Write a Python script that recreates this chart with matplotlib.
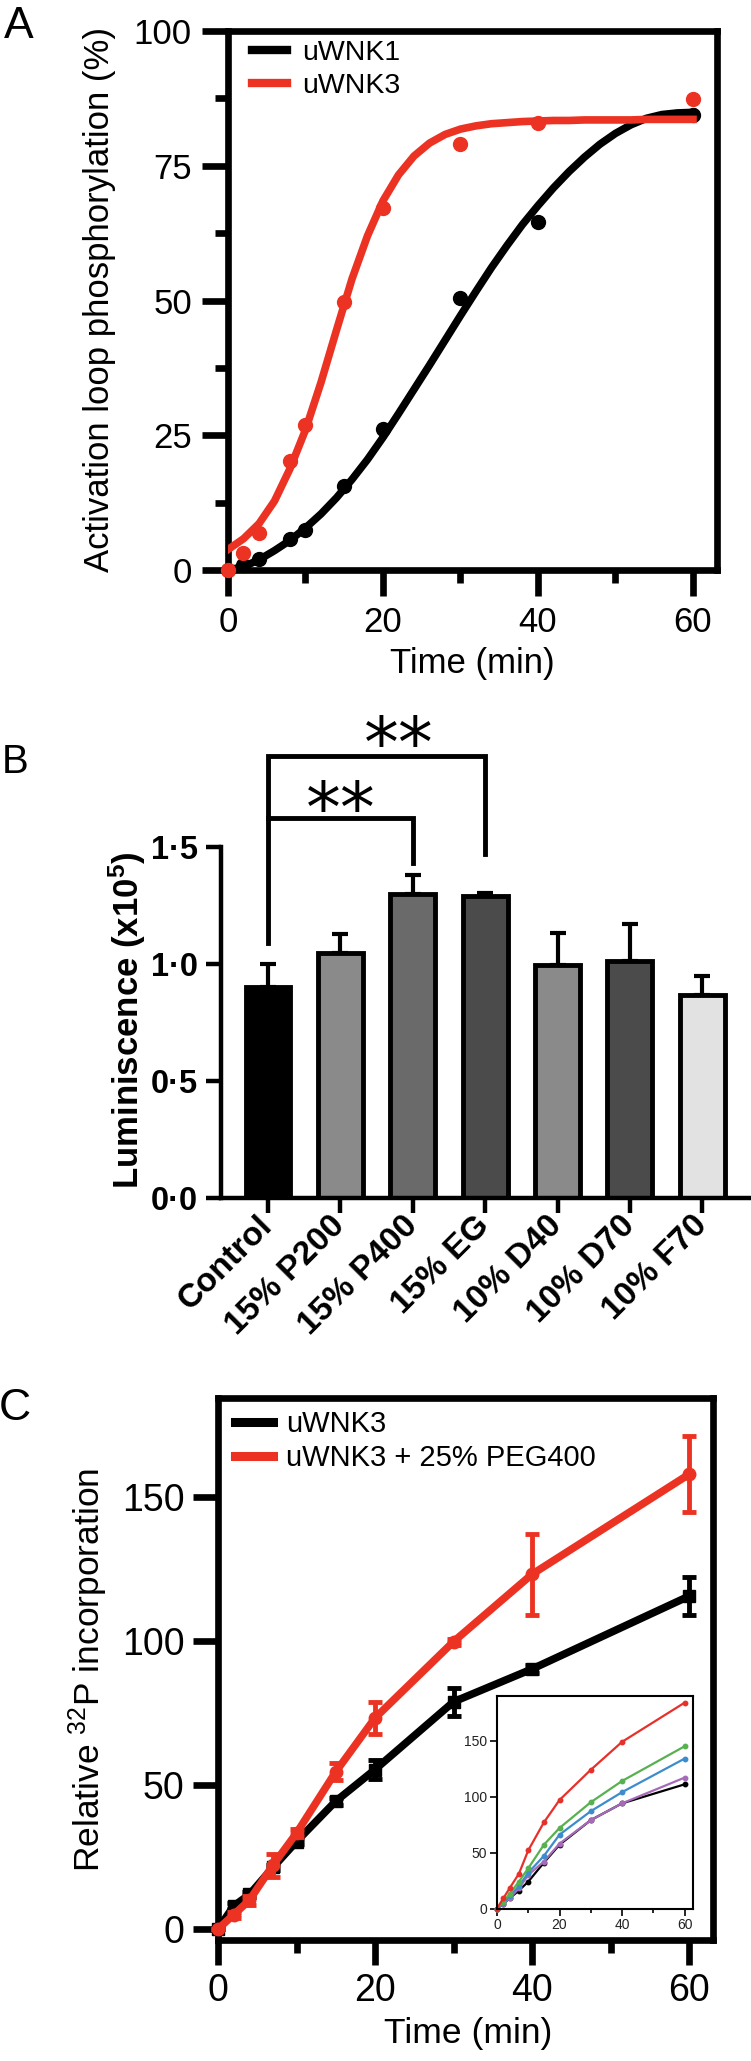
import matplotlib
matplotlib.use('Agg')
import matplotlib.pyplot as plt
from matplotlib.lines import Line2D
import numpy as np

plt.rcParams['font.family'] = ['Liberation Sans', 'DejaVu Sans']
plt.rcParams['mathtext.fontset'] = 'custom'
plt.rcParams['mathtext.rm'] = 'Liberation Sans'
plt.rcParams['mathtext.it'] = 'Liberation Sans:italic'
plt.rcParams['mathtext.bf'] = 'Liberation Sans:bold'

# ---------------- Data ----------------
# Panel A
time_a = [0, 2, 4, 8, 10, 15, 20, 30, 40, 60]
wnk1_pts = [0, 1.0, 2.1, 5.8, 7.4, 15.6, 26.1, 50.4, 64.6, 84.4]
wnk3_pts = [0, 3.1, 6.8, 20.3, 26.9, 49.7, 67.2, 79.0, 82.9, 87.4]
fit_t = [0, 2, 4, 6, 8, 10, 12, 14, 16, 18, 20, 22, 24, 26, 28, 30,
         32, 34, 36, 38, 40, 42, 44, 46, 48, 50, 52, 54, 56, 58, 60]
fit_wnk1 = [0, 0.6, 1.9, 3.6, 5.5, 7.8, 10.4, 13.4, 16.8, 20.5, 24.6, 29.0,
            33.5, 38.0, 42.6, 47.2, 51.7, 56.1, 60.2, 64.1, 67.6, 70.9, 73.9,
            76.6, 79.0, 81.0, 82.6, 83.8, 84.5, 84.8, 84.9]
fit_wnk3 = [3.8, 5.8, 8.6, 12.8, 18.8, 26.0, 34.8, 44.5, 54.0, 62.0, 68.5,
            73.3, 76.8, 79.2, 80.8, 81.8, 82.4, 82.8, 83.0, 83.2, 83.3, 83.4,
            83.4, 83.5, 83.5, 83.5, 83.5, 83.6, 83.6, 83.6, 83.6]

# Panel B
b_labels = ['Control', '15% P200', '15% P400', '15% EG', '10% D40', '10% D70', '10% F70']
b_means = [0.90, 1.045, 1.30, 1.29, 0.997, 1.012, 0.866]
b_err = [0.10, 0.085, 0.08, 0.015, 0.135, 0.158, 0.084]
b_colors = ['#000000', '#8a8a8a', '#6a6a6a', '#4b4b4b', '#8a8a8a', '#4b4b4b', '#e2e2e2']
b_yticks = [0, 0.5, 1.0, 1.5]
b_yticklabels = ['0·0', '0·5', '1·0', '1·5']

# Panel C
time_c = [0, 2, 4, 7, 10, 15, 20, 30, 40, 60]
wnk3_c = [0, 8, 12, 21.4, 30.4, 44.4, 55.4, 78.9, 90.3, 115.6]
wnk3_c_err = [0, 1, 1, 1, 1, 1.2, 3.2, 4.8, 1.5, 6.6]
peg_c = [0, 5, 10, 22.2, 33.3, 54.6, 73.3, 99.8, 123.2, 157.9]
peg_c_err = [0, 1, 1.5, 4, 1.5, 3, 5.7, 1, 14, 13.2]

# Inset of panel C
inset_t = [0, 2, 4, 7, 10, 15, 20, 30, 40, 60]
inset_black = [0, 4, 9, 16, 24, 41, 57, 79, 94, 111]
inset_purple = [0, 4, 9, 18, 30, 42, 58, 79, 94, 117]
inset_blue = [0, 5, 11, 20, 32, 47, 66, 87, 104, 134]
inset_green = [0, 6, 13, 24, 36, 57, 72, 95, 114, 145]
inset_red = [0, 9, 18, 31, 52, 77, 97, 124, 149, 184]

RED = '#ec3323'
W, H = 751, 2061
fig = plt.figure(figsize=(W / 100, H / 100), dpi=100)


def box(l, t, r, b):
    return [l / W, 1 - b / H, (r - l) / W, (b - t) / H]


def ftext(x, y, s, **kw):
    fig.text(x / W, 1 - y / H, s, **kw)


# ---------------- Panel A ----------------
axA = fig.add_axes(box(228, 31, 717, 570))
axA.plot(fit_t, fit_wnk1, color='k', lw=5.5, label='uWNK1', zorder=3)
axA.plot(fit_t, fit_wnk3, color=RED, lw=5.5, label='uWNK3', zorder=4)
axA.plot(time_a, wnk1_pts, 'o', color='k', ms=10, clip_on=False, zorder=3)
axA.plot(time_a, wnk3_pts, 'o', color=RED, ms=10, clip_on=False, zorder=4)
axA.set_xlim(0, 63.1)
axA.set_ylim(0, 100)
axA.set_xticks([0, 20, 40, 60])
axA.set_xticks([10, 30, 50], minor=True)
axA.set_yticks([0, 25, 50, 75, 100])
axA.set_yticks([12.5, 37.5, 62.5, 87.5], minor=True)
for s in axA.spines.values():
    s.set_linewidth(4.8)
axA.tick_params(which='major', length=19, width=4.8, labelsize=25, pad=7)
axA.tick_params(which='minor', length=9.5, width=4.8)
leg = axA.legend(loc='upper left', bbox_to_anchor=(252 / W, 1 - 40 / H),
                 bbox_transform=fig.transFigure, frameon=False, fontsize=20.5,
                 handlelength=1.22, handletextpad=0.54, labelspacing=0.26,
                 borderpad=0, borderaxespad=0)
for ln in leg.get_lines():
    ln.set_linewidth(6)
ftext(100, 300, 'Activation loop phosphorylation (%)', rotation=90,
      ha='center', va='center', fontsize=25)
ftext(472, 663, 'Time (min)', ha='center', va='center', fontsize=25)
ftext(19, 27, 'A', ha='center', va='center', fontsize=32)

# ---------------- Panel B ----------------
axB = fig.add_axes(box(221, 847, 750, 1198))
xb = np.arange(len(b_labels))
axB.errorbar(xb, b_means, yerr=[np.zeros(len(b_err)), b_err], fmt='none',
             ecolor='k', elinewidth=3, capsize=6, capthick=3, zorder=1)
axB.bar(xb, b_means, width=0.62, color=b_colors, edgecolor='k',
        linewidth=3.5, zorder=2)
axB.set_xlim(-0.65, 6.66)
axB.set_ylim(0, 1.5)
axB.spines['top'].set_visible(False)
axB.spines['right'].set_visible(False)
for s in ['left', 'bottom']:
    axB.spines[s].set_linewidth(3.2)
axB.set_yticks(b_yticks)
axB.set_yticklabels(b_yticklabels, fontsize=23.5, fontweight='bold')
axB.set_xticks(xb)
axB.set_xticklabels(b_labels, rotation=45, ha='right', va='center',
                    rotation_mode='anchor', fontsize=24, fontweight='bold')
axB.tick_params(axis='both', length=10.5, width=3.2, pad=6)
axB.plot([0, 0, 3, 3], [1.09, 1.889, 1.889, 1.47], color='k', lw=3.5,
         clip_on=False, solid_joinstyle='miter')
axB.plot([0, 2, 2], [1.624, 1.624, 1.43], color='k', lw=3.5,
         clip_on=False, solid_joinstyle='miter')
axB.text(1.8, 1.842, '**', ha='center', va='baseline', fontsize=50,
         family='DejaVu Sans', clip_on=False)
axB.text(1.0, 1.566, '**', ha='center', va='baseline', fontsize=50,
         family='DejaVu Sans', clip_on=False)
ftext(127, 1020, r'Luminiscence (x10$^{\mathbf{5}}$)', rotation=90,
      ha='center', va='center', fontsize=25, fontweight='bold')
ftext(15, 762, 'B', ha='center', va='center', fontsize=29)

# ---------------- Panel C ----------------
axC = fig.add_axes(box(218, 1398, 713, 1940))
axC.errorbar(time_c, wnk3_c, yerr=wnk3_c_err, color='k', lw=5.5,
             marker='s', ms=8.5, elinewidth=3.5, capsize=5, capthick=3.5,
             clip_on=False, zorder=3)
axC.errorbar(time_c, peg_c, yerr=peg_c_err, color=RED, lw=5.5,
             marker='o', ms=9, elinewidth=3.5, capsize=5, capthick=3.5,
             clip_on=False, zorder=4)
axC.set_xlim(0, 63.05)
axC.set_ylim(-3.8, 184.4)
axC.set_xticks([0, 20, 40, 60])
axC.set_xticks([10, 30, 50], minor=True)
axC.set_yticks([0, 50, 100, 150])
for s in axC.spines.values():
    s.set_linewidth(4.8)
axC.tick_params(which='major', length=18, width=4.8, labelsize=27, pad=6)
axC.tick_params(which='minor', length=9.5, width=4.8)
legend_handles = [Line2D([], [], color='k', lw=6.5),
                  Line2D([], [], color=RED, lw=6.5)]
axC.legend(legend_handles, ['uWNK3', 'uWNK3 + 25% PEG400'], loc='upper left',
           bbox_to_anchor=(235 / W, 1 - 1410 / H),
           bbox_transform=fig.transFigure, frameon=False, fontsize=21,
           handlelength=1.3, handletextpad=0.45, labelspacing=0.2,
           borderpad=0, borderaxespad=0)
ftext(88, 1670, r'Relative $^{32}$P incorporation', rotation=90,
      ha='center', va='center', fontsize=25.5)
ftext(468, 2033, 'Time (min)', ha='center', va='center', fontsize=25.5)
ftext(15, 1408, 'C', ha='center', va='center', fontsize=32)

# Inset
axI = fig.add_axes(box(497, 1696, 693, 1908.5))
for ys, c in [(inset_black, 'k'), (inset_purple, '#a66bb8'),
              (inset_blue, '#3d8ccc'), (inset_green, '#58b150'),
              (inset_red, '#e8302a')]:
    axI.plot(inset_t, ys, color=c, lw=1.6, marker='o', ms=3.2, clip_on=False)
axI.set_xlim(0, 62.7)
axI.set_ylim(0, 190)
axI.set_xticks([0, 20, 40, 60])
axI.set_xticks([10, 30, 50], minor=True)
axI.set_yticks([0, 50, 100, 150])
for s in axI.spines.values():
    s.set_linewidth(1.5)
axI.tick_params(which='major', length=5, width=1.2, labelsize=10, pad=2,
                labelcolor='#222222')
axI.tick_params(which='minor', length=3, width=1.2)

fig.savefig('out.png', dpi=100)
